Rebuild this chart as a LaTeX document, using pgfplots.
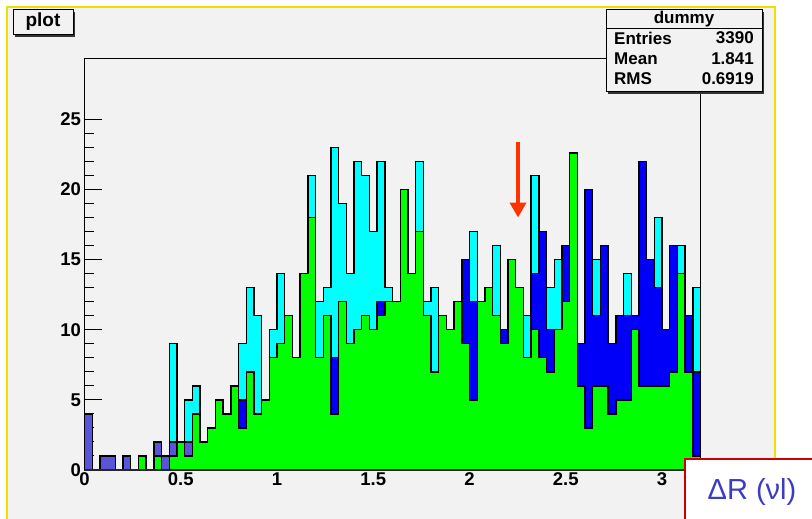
\documentclass[border=0pt]{standalone}
\usepackage{pgfplots}
\pgfplotsset{compat=1.18}
\usepackage{pgfplotstable}
\usepackage{fontspec}
\setmainfont{Liberation Sans}
\usetikzlibrary{arrows.meta}
\definecolor{bg}{HTML}{F2F2F2}
\definecolor{hgreen}{HTML}{00FF00}
\definecolor{hcyan}{HTML}{00FFFF}
\definecolor{hblue}{HTML}{0000FA}
\definecolor{hslate}{HTML}{5A55D8}
\definecolor{arrowred}{HTML}{FF3300}
\definecolor{framered}{HTML}{CC0000}
\definecolor{textblue}{HTML}{3B3BC4}
\definecolor{yel}{HTML}{F0E000}

\pgfplotstableread{
x    G    S   B   C
0.00 0    4   4   4
0.04 0    0   0   0
0.08 0    1   1   1
0.12 0    1   1   1
0.16 0    0   0   0
0.20 0    1   1   1
0.24 0    0   0   0
0.28 1    1   1   1
0.32 0    0   0   0
0.36 1    2   2   2
0.40 0    1   1   1
0.44 1    2   2   9
0.48 2    2   2   2
0.52 1    2   2   5
0.56 4    4   4   6
0.60 2    2   2   2
0.64 3    3   3   3
0.68 5    5   5   5
0.72 4    4   4   4
0.76 6    6   6   6
0.80 3    3   5   9
0.84 7    7   7   13
0.88 4    4   4   11
0.92 5    5   5   5
0.96 8    8   8   10
1.00 9    9   9   14
1.04 11   11  11  11
1.08 8    8   8   8
1.12 14   14  14  14
1.16 18   18  18  21
1.20 8    8   8   12
1.24 11   11  11  13
1.28 4    4   8   23
1.32 12   12  12  19
1.36 9    9   9   14
1.40 10   10  10  22
1.44 11   11  11  21
1.48 10   10  10  17
1.52 11   11  12  22
1.56 12   12  12  13
1.60 12   12  12  12
1.64 20   20  20  20
1.68 14   14  14  14
1.72 17   17  17  22
1.76 11   11  11  12
1.80 7    7   7   13
1.84 11   11  11  11
1.88 10   10  10  10
1.92 12   12  12  12
1.96 9    9   15  15
2.00 5    5   12  17
2.04 12   12  12  12
2.08 13   13  13  13
2.12 11   11  11  16
2.16 9    9   10  10
2.20 15   15  15  15
2.24 13   13  13  13
2.28 8    8   8   11
2.32 10   10  14  21
2.36 8    8   17  17
2.40 7    7   10  13
2.44 10   10  10  15
2.48 12   12  16  16
2.52 22.6 22.6 22.6 22.6
2.56 6    6   9   9
2.60 3    3   20  20
2.64 6    6   11  15
2.68 6    6   16  16
2.72 4    4   9   9
2.76 5    5   11  11
2.80 5    5   11  14
2.84 10   10  11  11
2.88 6    6   22  22
2.92 6    6   15  15
2.96 6    6   13  18
3.00 6    6   10  10
3.04 7    7   16  16
3.08 14   14  14  16
3.12 7    7   11  11
3.16 1    1   7   13
3.20 1    1   7   13
}\histdata

\begin{document}
\begin{tikzpicture}
\useasboundingbox (0pt,0pt) rectangle (812pt,519pt);
\fill[white] (0pt,0pt) rectangle (812pt,519pt);
\fill[bg] (7pt,0pt) rectangle (775pt,512pt);
\draw[yel, line width=2pt] (7pt,0pt) -- (7pt,512pt) -- (775pt,512pt) -- (775pt,0pt);

\begin{axis}[
  at={(84.5pt,49pt)}, anchor=south west,
  scale only axis, width=616pt, height=411pt,
  xmin=0, xmax=3.2, ymin=0, ymax=29.3,
  clip=false,
  axis background/.style={fill=bg},
  axis line style={line width=1pt, black},
  xtick={0,0.5,1,1.5,2,2.5,3},
  xticklabels={0,0.5,1,1.5,2,2.5,3},
  xtick style={draw=none},
  ytick={0,5,10,15,20,25},
  minor y tick num=4,
  ytick pos=left,
  tick align=inside,
  major tick length=17pt,
  minor tick length=9pt,
  y tick style={line width=1pt, black},
  /pgf/number format/assume math mode=true,
  ticklabel style={font=\bfseries\fontsize{18.5}{18.5}\selectfont},
  xticklabel style={yshift=1pt},
]
\addplot[const plot, fill=hcyan, draw=black, line width=1.4pt] table[x=x,y=C]{\histdata} \closedcycle;
\addplot[const plot, fill=hblue, draw=black, line width=1.4pt] table[x=x,y=B]{\histdata} \closedcycle;
\addplot[const plot, fill=hslate, draw=black, line width=1.4pt] table[x=x,y=S]{\histdata} \closedcycle;
\addplot[const plot, fill=hgreen, draw=black, line width=1.4pt] table[x=x,y=G]{\histdata} \closedcycle;
\draw[line width=2pt, black!85] (axis cs:0,0) -- (axis cs:3.2,0);
\draw[arrowred, line width=4pt, -{Triangle[width=16pt,length=15pt]}] (axis cs:2.252,23.36) -- (axis cs:2.252,18.0);
\end{axis}

% title box "plot"
\fill[black!80] (15pt,482pt) rectangle (75pt,507pt);
\draw[line width=1pt, fill=bg] (13pt,484pt) rectangle (73pt,509pt);
\node[font=\bfseries\fontsize{19}{19}\selectfont] at (43pt,497pt) {plot};

% stats box
\fill[black!80] (608pt,425pt) rectangle (764pt,507pt);
\draw[line width=1pt, fill=bg] (606pt,427pt) rectangle (762pt,509pt);
\draw[line width=1pt] (606pt,490pt) -- (762pt,490pt);
\begin{scope}[every node/.style={font=\bfseries\fontsize{17}{17}\selectfont, inner sep=0pt}]
\node at (684pt,500pt) {dummy};
\node[anchor=west] at (614pt,481pt) {Entries};
\node[anchor=east] at (754pt,481pt) {3390};
\node[anchor=west] at (614pt,460pt) {Mean};
\node[anchor=east] at (754pt,460pt) {1.841};
\node[anchor=west] at (614pt,440pt) {RMS};
\node[anchor=east] at (754pt,440pt) {0.6919};
\end{scope}

% Delta R label box
\draw[framered, line width=2pt, fill=white] (685pt,-2pt) rectangle (814pt,60pt);
\node[textblue, font=\fontsize{29}{29}\selectfont] at (752pt,27pt) {ΔR (νl)};
\end{tikzpicture}
\end{document}
